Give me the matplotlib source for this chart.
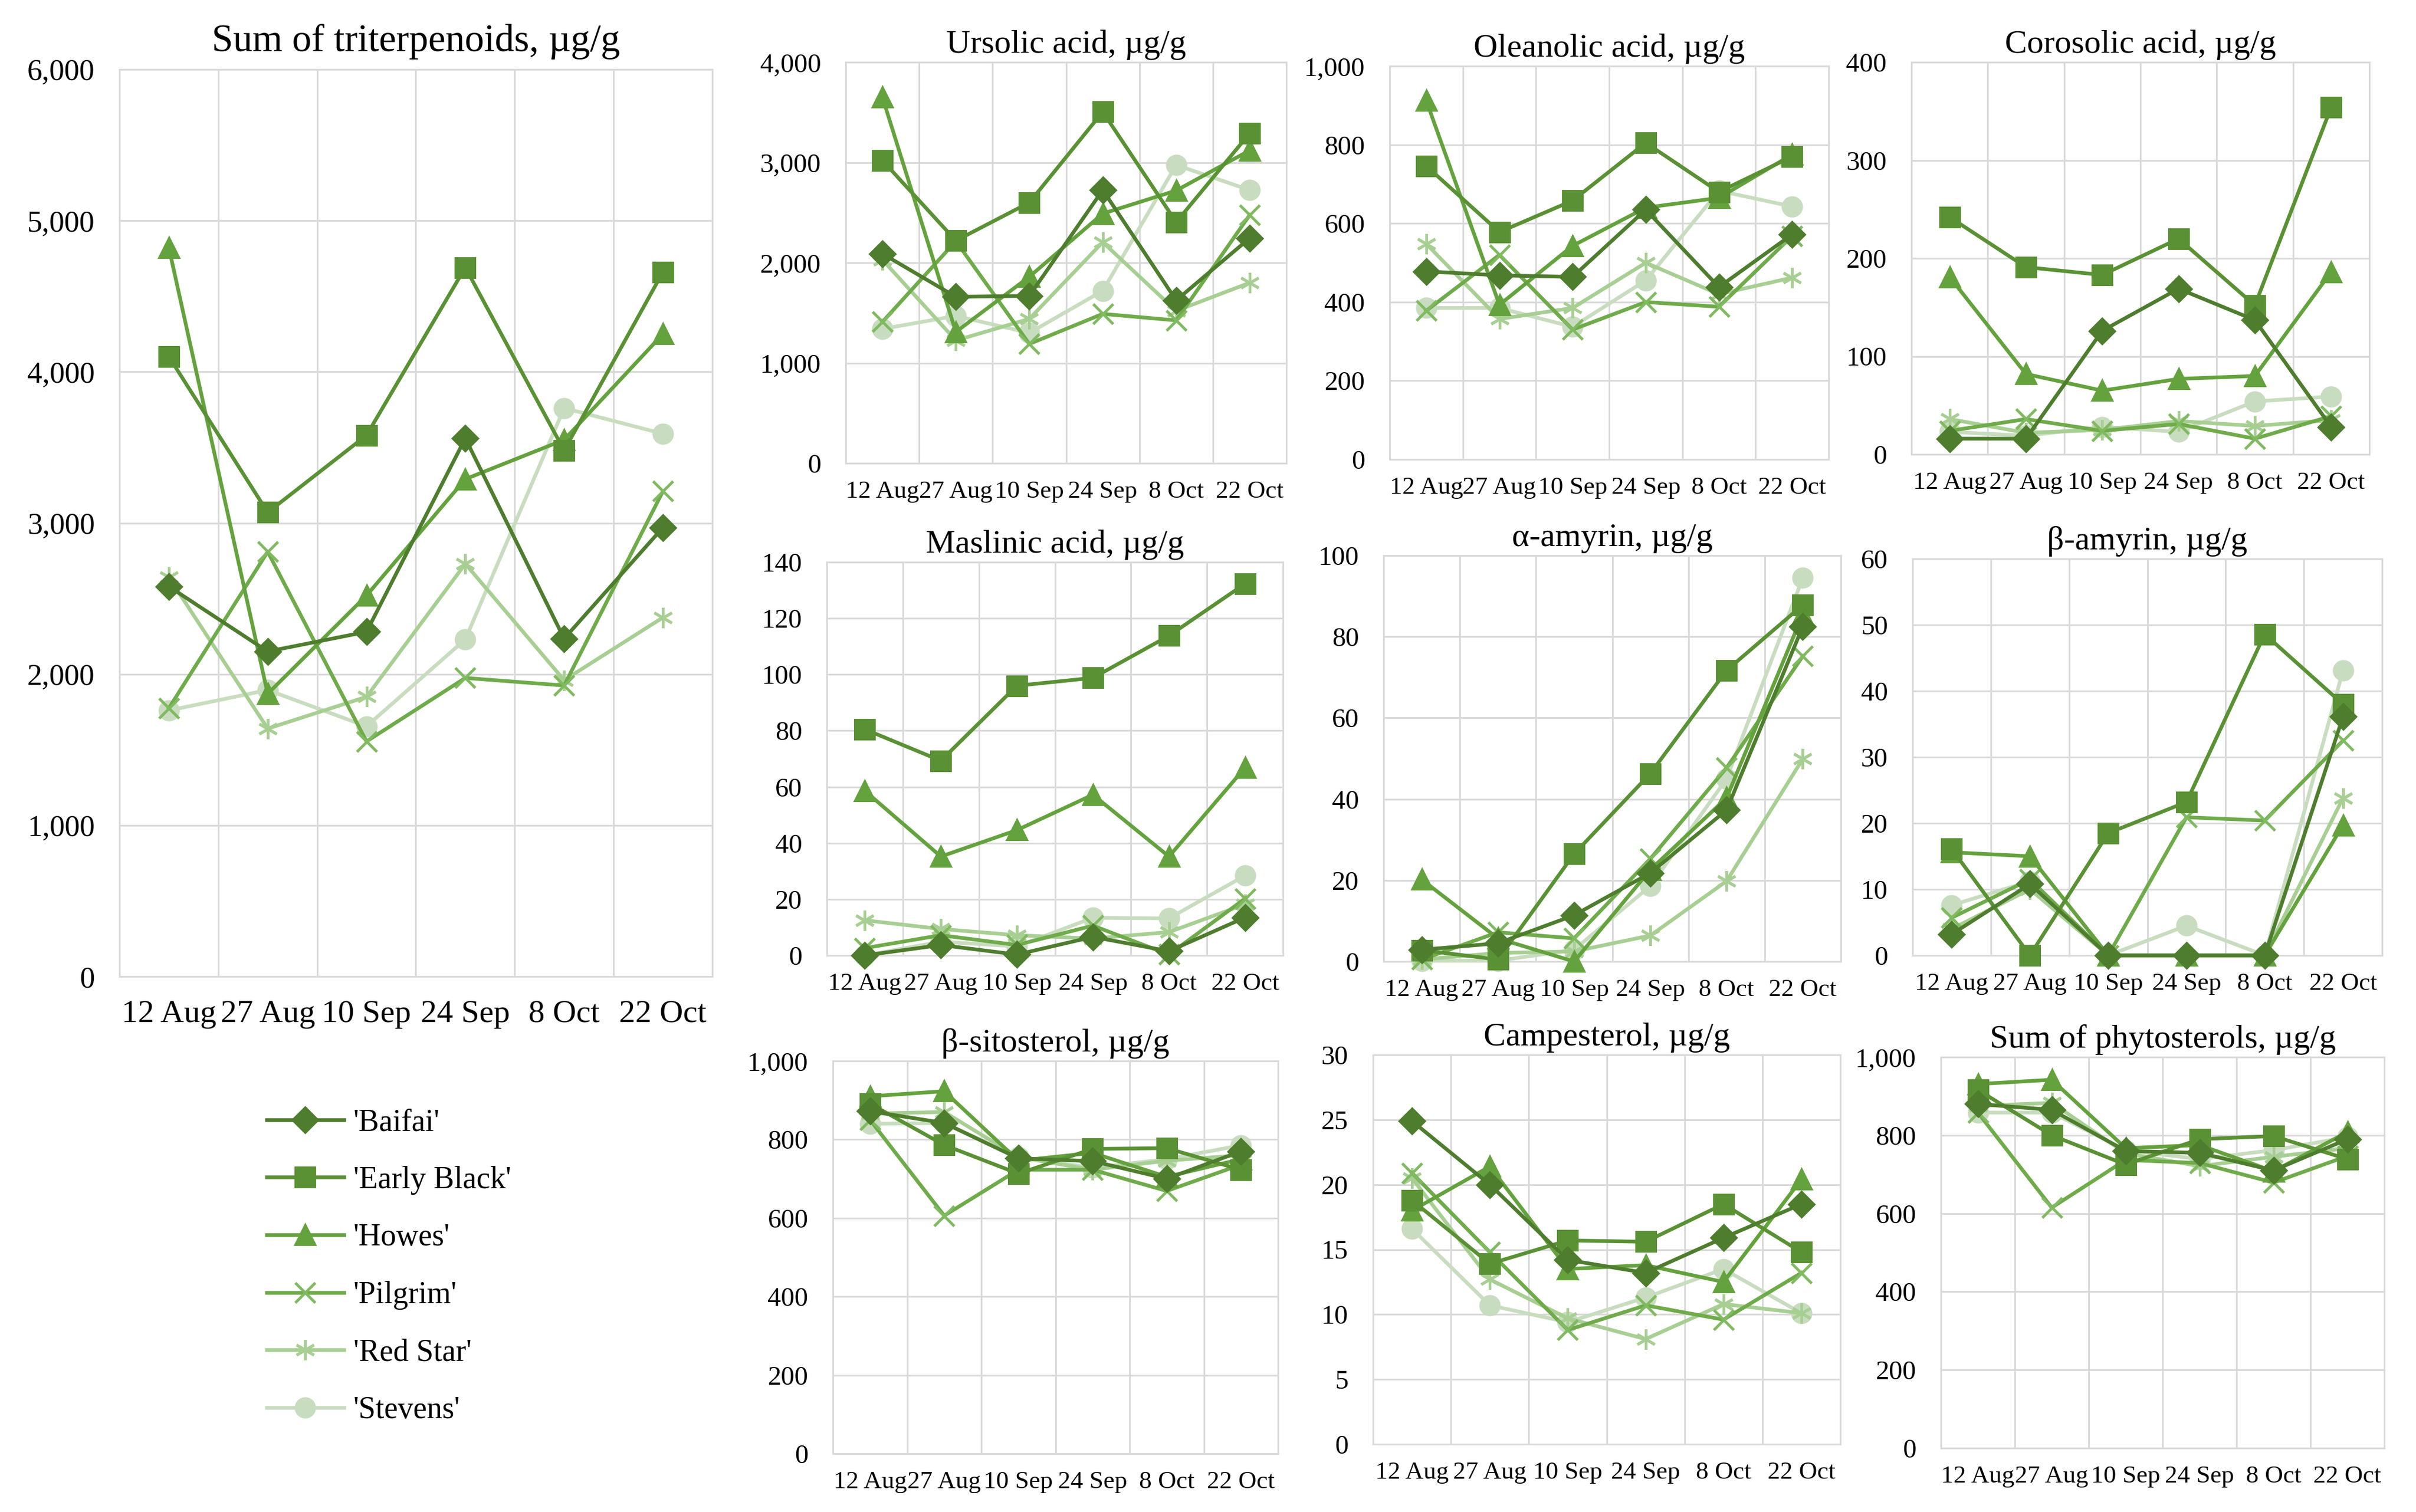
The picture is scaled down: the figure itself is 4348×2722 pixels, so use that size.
import numpy as np
import matplotlib.pyplot as plt
from matplotlib.ticker import FuncFormatter, MultipleLocator

plt.rcParams['font.family'] = ['Liberation Serif', 'DejaVu Serif']

dates = ['12 Aug', '27 Aug', '10 Sep', '24 Sep', '8 Oct', '22 Oct']
cultivars = ["'Baifai'", "'Early Black'", "'Howes'", "'Pilgrim'", "'Red Star'", "'Stevens'"]

# rows follow the cultivar order above, values in ug/g
triterpenoids_sum = [[2580, 2150, 2280, 3560, 2235, 2970],
                     [4100, 3070, 3580, 4690, 3480, 4660],
                     [4820, 1870, 2520, 3290, 3550, 4250],
                     [1775, 2810, 1555, 1975, 1925, 3210],
                     [2640, 1640, 1850, 2730, 1960, 2375],
                     [1760, 1895, 1655, 2230, 3760, 3590]]
ursolic = [[2090, 1660, 1670, 2725, 1625, 2245],
           [3020, 2220, 2600, 3505, 2405, 3290],
           [3650, 1310, 1860, 2490, 2720, 3120],
           [1410, 2215, 1190, 1490, 1425, 2475],
           [2030, 1225, 1440, 2205, 1520, 1800],
           [1340, 1470, 1300, 1720, 2975, 2725]]
oleanolic = [[478, 468, 464, 635, 438, 572],
             [746, 578, 658, 805, 680, 770],
             [912, 393, 543, 640, 665, 775],
             [378, 520, 330, 400, 388, 568],
             [548, 357, 385, 500, 420, 462],
             [385, 385, 337, 455, 683, 643]]
corosolic = [[16, 16, 126, 169, 137, 28],
             [242, 191, 183, 220, 152, 354],
             [181, 82, 65, 77, 80, 186],
             [24, 36, 24, 31, 16, 39],
             [36, 22, 25, 34, 29, 35],
             [23, 19, 28, 23, 54, 59]]
maslinic = [[0, 3.7, 0.3, 6.6, 1.5, 13.5],
            [80.5, 69.3, 96, 98.8, 113.8, 132.3],
            [58.6, 35.2, 44.6, 57.2, 35.2, 66.8],
            [2.6, 7.2, 3.7, 10.6, 0.3, 20.2],
            [12.5, 9.4, 7.2, 6, 8.3, 18.2],
            [0, 4.9, 3.2, 13.4, 13.2, 28.4]]
a_amyrin = [[2.9, 4.5, 11.4, 21.8, 37.3, 82.5],
            [2.8, 0.5, 26.5, 46.3, 71.7, 87.8],
            [20.2, 5.7, 0, 22.6, 40.3, 85.5],
            [0.5, 7.2, 5.7, 25.3, 47.7, 75.2],
            [0.5, 2.1, 2.5, 6.4, 19.8, 49.9],
            [0.2, 0.2, 2.9, 18.6, 45, 94.5]]
b_amyrin = [[3.2, 10.8, 0, 0, 0, 36.1],
            [16.1, 0, 18.5, 23.2, 48.6, 38],
            [15.6, 15, 0, 0, 0, 19.7],
            [5.7, 11.5, 0, 20.9, 20.4, 32.5],
            [4, 10, 0, 0, 0, 23.8],
            [7.6, 11.2, 0, 4.5, 0, 43.1]]
sitosterol = [[872, 842, 752, 745, 700, 770],
              [891, 786, 713, 776, 778, 723],
              [910, 923, 746, 766, 705, 750],
              [850, 606, 723, 723, 669, 736],
              [866, 870, 755, 723, 746, 760],
              [840, 842, 755, 728, 750, 785]]
campesterol = [[24.9, 20, 14.2, 13.2, 15.9, 18.5],
               [18.8, 13.9, 15.7, 15.6, 18.5, 14.8],
               [18, 21.4, 13.5, 13.8, 12.5, 20.4],
               [20.9, 14.8, 8.8, 10.7, 9.6, 13.2],
               [20.5, 12.7, 9.7, 8.1, 10.8, 10.1],
               [16.6, 10.7, 9.4, 11.3, 13.5, 10.1]]
phytosterols_sum = [[880, 865, 760, 755, 710, 790],
                    [916, 800, 725, 790, 798, 739],
                    [931, 942, 767, 775, 708, 808],
                    [858, 615, 737, 729, 679, 747],
                    [875, 883, 754, 721, 745, 767],
                    [858, 858, 762, 739, 762, 795]]

line_colors = ['#4e7d2e', '#5a9134', '#64a23d', '#6fab4a', '#a8cf93', '#c8ddbf']
marker_colors = ['#4e7d2e', '#5a9134', '#64a23d', '#80ba60', '#a8cf93', '#c8ddbf']
markers = ['D', 's', '^', 'x', (6, 2, 0), 'o']
msizes = [11, 12, 12, 13, 13, 12]

W, H = 4348, 2722
fig = plt.figure(figsize=(W / 200, H / 200), dpi=200)


def rect(l, r, t, b):
    return [l / W, 1 - b / H, (r - l) / W, (b - t) / H]


panels = [
    ('Sum of triterpenoids, µg/g', triterpenoids_sum, 6000, 1000, rect(215, 1282, 125, 1758), True),
    ('Ursolic acid, µg/g', ursolic, 4000, 1000, rect(1522, 2315, 112, 834), False),
    ('Oleanolic acid, µg/g', oleanolic, 1000, 200, rect(2501, 3291, 119, 827), False),
    ('Corosolic acid, µg/g', corosolic, 400, 100, rect(3440, 4264, 112, 818), False),
    ('Maslinic acid, µg/g', maslinic, 140, 20, rect(1488, 2309, 1012, 1720), False),
    ('α-amyrin, µg/g', a_amyrin, 100, 20, rect(2490, 3313, 1000, 1731), False),
    ('β-amyrin, µg/g', b_amyrin, 60, 10, rect(3442, 4287, 1006, 1720), False),
    ('β-sitosterol, µg/g', sitosterol, 1000, 200, rect(1499, 2300, 1910, 2617), False),
    ('Campesterol, µg/g', campesterol, 30, 5, rect(2471, 3312, 1899, 2600), False),
    ('Sum of phytosterols, µg/g', phytosterols_sum, 1000, 200, rect(3493, 4291, 1903, 2607), False),
]

x = np.arange(len(dates))
handles = []
for title, data, ymax, step, pos, big in panels:
    ax = fig.add_axes(pos)
    for i, name in enumerate(cultivars):
        h, = ax.plot(x, data[i], color=line_colors[i], lw=2.4, marker=markers[i],
                     markersize=msizes[i], markerfacecolor=marker_colors[i],
                     markeredgecolor=marker_colors[i], markeredgewidth=1.8,
                     label=name, clip_on=False, zorder=3 + (5 - i) * 0.1)
        if big:
            handles.append(h)
    ax.set_xlim(-0.5, len(dates) - 0.5)
    ax.set_ylim(0, ymax)
    ax.yaxis.set_major_locator(MultipleLocator(step))
    ax.yaxis.set_major_formatter(FuncFormatter(lambda v, p: f'{int(round(v)):,}'))
    ax.set_xticks(x)
    ax.set_xticklabels(dates)
    ax.set_xticks(np.arange(-0.5, len(dates)), minor=True)
    ax.grid(which='minor', axis='x', color='#d9d9d9', lw=1.1)
    ax.grid(which='major', axis='y', color='#d9d9d9', lw=1.1)
    ax.set_axisbelow(True)
    ax.tick_params(which='both', length=0)
    for s in ax.spines.values():
        s.set_color('#d9d9d9')
        s.set_linewidth(1.1)
    if big:
        ax.tick_params(axis='y', labelsize=19.5, pad=16)
        ax.tick_params(axis='x', labelsize=21, pad=15)
        ax.set_title(title, fontsize=25, pad=12)
    else:
        ax.tick_params(axis='y', labelsize=17.5, pad=16)
        ax.tick_params(axis='x', labelsize=16.3, pad=11)
        ax.set_title(title, fontsize=21.5, pad=6)

fig.legend(handles=handles, labels=cultivars, loc='upper left',
           bbox_to_anchor=(430 / W, 1 - 1945 / H), frameon=False,
           fontsize=20, handlelength=2.5, handletextpad=0.3, labelspacing=0.93)

fig.savefig('out.png', dpi=200)
